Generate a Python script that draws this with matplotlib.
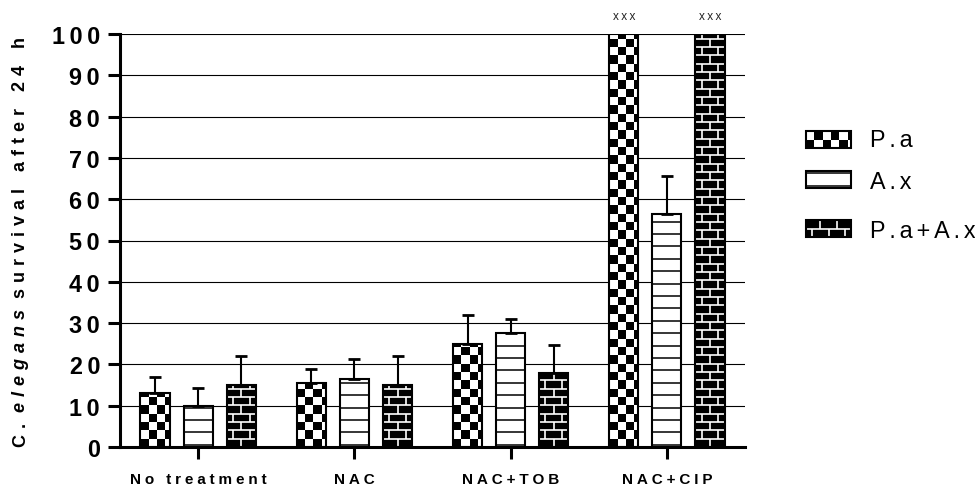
import numpy as np
import matplotlib
matplotlib.use("Agg")
import matplotlib.pyplot as plt
from matplotlib.patches import Rectangle
from matplotlib.collections import PatchCollection, LineCollection

plt.rcParams['font.family'] = ['Liberation Sans', 'DejaVu Sans']

groups = ['No treatment', 'NAC', 'NAC+TOB', 'NAC+CIP']
strains = ['P.a', 'A.x', 'P.a+A.x']
patterns = ['checker', 'lines', 'brick']

# % survival, mean and upper SD
survival_pa = [13, 15.5, 25, 100]
survival_ax = [10, 16.5, 27.5, 56.3]
survival_mix = [15, 15, 18, 100]
err_pa = [4, 3.3, 7, 0]
err_ax = [4.2, 4.7, 3.4, 9.4]
err_mix = [7, 7, 6.8, 0]

# bars flagged with 'xxx' : (group index, strain index)
marked = [(3, 0), (3, 2)]

yticks = np.arange(0, 101, 10)

CELL = 8.33       # pattern cell size in pixels
LINE_STEP = 12.4  # spacing of the horizontal stripes in pixels


def spaced(s, gap):
    # fake letter spacing
    return gap.join(s)


def px_units(ax):
    inv = ax.transData.inverted()
    (x0, y0), (x1, y1) = inv.transform([(0, 0), (1, 1)])
    return x1 - x0, y1 - y0


def fill_pattern(ax, patch, kind):
    dx, dy = px_units(ax)
    x, y = patch.get_x(), patch.get_y()
    w, h = patch.get_width(), patch.get_height()
    if kind == 'checker':
        cw, ch = CELL * dx, CELL * dy
        squares = []
        for i in range(int(np.ceil(h / ch))):
            for j in range(int(np.ceil(w / cw))):
                if (i + j) % 2 == 0:
                    squares.append(Rectangle((x + j * cw, y + i * ch), cw, ch))
        coll = PatchCollection(squares, facecolor='black', edgecolor='none', zorder=2)
    elif kind == 'lines':
        ys = y + (2.3 + np.arange(0, h / dy / LINE_STEP + 1) * LINE_STEP) * dy
        segs = [[(x, yy), (x + w, yy)] for yy in ys if yy < y + h]
        coll = LineCollection(segs, colors='black', linewidths=1.1, zorder=2)
    else:
        bh, bw = CELL * dy, 2 * CELL * dx
        segs = []
        for i in range(int(np.ceil(h / bh))):
            yy = y + i * bh
            segs.append([(x, yy), (x + w, yy)])
            start = x + w / 2 + (i % 2) * bw / 2
            for k in range(-4, 5):
                xx = start + k * bw
                if x < xx < x + w:
                    segs.append([(xx, yy), (xx, yy + bh)])
        coll = LineCollection(segs, colors='white', linewidths=1.2, zorder=2)
    ax.add_collection(coll, autolim=False)
    # clip after adding, otherwise the axes patch replaces it
    coll.set_clip_path(patch)


fig = plt.figure(figsize=(9.75, 4.89), dpi=100)
ax = fig.add_axes([120 / 975, 41 / 489, 625 / 975, 413 / 489])
ax.set_xlim(-0.5, 3.5)
ax.set_ylim(0, 100)

x = np.arange(len(groups))
offsets = [-0.276, 0, 0.276]
bar_w = 0.186
series = [(survival_pa, err_pa), (survival_ax, err_ax), (survival_mix, err_mix)]

for k, ((vals, errs), kind) in enumerate(zip(series, patterns)):
    xs = x + offsets[k]
    vals = np.array(vals, dtype=float)
    errs = np.array(errs, dtype=float)
    face = 'black' if kind == 'brick' else 'white'
    bars = ax.bar(xs, vals, width=bar_w, color=face, edgecolor='none', zorder=1)
    for b in bars:
        fill_pattern(ax, b, kind)
    ax.bar(xs, vals, width=bar_w, fill=False, edgecolor='black', linewidth=1.5, zorder=3)
    keep = errs > 0
    ax.errorbar(xs[keep], vals[keep], yerr=[np.zeros(keep.sum()), errs[keep]],
                fmt='none', ecolor='black', elinewidth=1.5, capsize=4.3,
                capthick=2, zorder=3)

for g, s in marked:
    ax.annotate(spaced('xxx', '\u2009'), xy=(x[g] + offsets[s], 100), xytext=(0, 13),
                textcoords='offset points', ha='center', va='center',
                fontsize=8.5, color='#222222')

# axes styling
ax.set_axisbelow(True)
ax.yaxis.grid(True, color='black', linewidth=0.8)
ax.spines['top'].set_visible(False)
ax.spines['right'].set_visible(False)
ax.spines['left'].set_linewidth(2.2)
ax.spines['bottom'].set_linewidth(2.2)
ax.set_yticks(yticks)
ax.set_yticklabels([spaced(str(v), '\u2009') for v in yticks],
                   fontsize=16.8, fontweight='bold')
ax.set_xticks(x)
ax.set_xticklabels([spaced(g, '\u2005') for g in groups], fontsize=11, fontweight='bold')
ax.tick_params(axis='y', length=8.6, width=2.2, pad=5.8)
ax.tick_params(axis='x', length=8.6, width=2.2, pad=9.5)

# y label, italic species name
gap = '\u2004'
prev = fig.text(21 / 975, 1 - 447 / 489, spaced('C.', gap), rotation=90,
                ha='center', va='bottom', fontsize=13, fontweight='bold')
for txt, style in [(' elegans', 'italic'), (' survival after 24 h', 'normal')]:
    prev = ax.annotate(spaced(txt, gap), xy=(0.5, 1), xycoords=prev, rotation=90,
                       ha='center', va='bottom', fontsize=13,
                       fontweight='bold', fontstyle=style)

# legend drawn in figure pixels
lax = fig.add_axes([0, 0, 1, 1])
lax.set_xlim(0, 975)
lax.set_ylim(0, 489)
lax.axis('off')
swatch_top = [132, 172, 221]
label_mid = [141, 183, 232]
for name, kind, top, mid in zip(strains, patterns, swatch_top, label_mid):
    face = 'black' if kind == 'brick' else 'white'
    sw = Rectangle((806, 489 - top - 17), 45, 17, facecolor=face, edgecolor='none')
    lax.add_patch(sw)
    fill_pattern(lax, sw, kind)
    lax.add_patch(Rectangle((806, 489 - top - 17), 45, 17, fill=False,
                            edgecolor='black', linewidth=1.5, zorder=3))
    lax.text(870, 489 - mid, spaced(name, '\u2006'), fontsize=16.8, va='center', ha='left')

fig.savefig('out.png', dpi=100)
